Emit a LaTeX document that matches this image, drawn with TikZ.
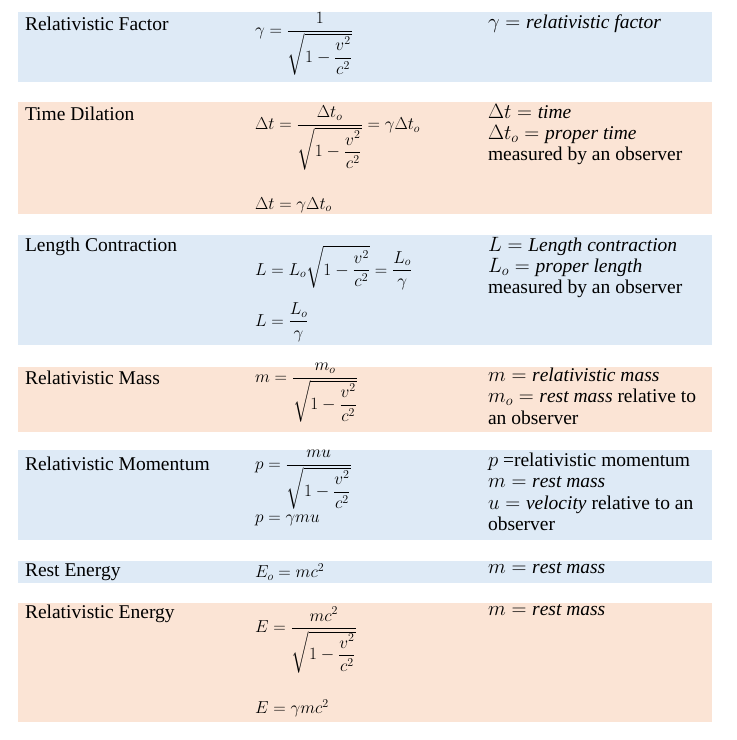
\documentclass[tikz,border=0pt]{standalone}
\usepackage{fontspec}
\usepackage{amsmath}
\setmainfont{Liberation Serif}
\begin{document}
\begin{tikzpicture}[x=1pt,y=-1pt,
  every node/.style={inner sep=0pt,outer sep=0pt,font=\fontsize{19.5}{21}\selectfont},
  lbl/.style={anchor=west},
  frm/.style={anchor=west,font=\fontsize{17}{21}\selectfont},
  dsc/.style={anchor=north west,align=left,font=\fontsize{19.5}{21.3}\selectfont}]
\definecolor{bandblue}{HTML}{DEEAF6}
\definecolor{bandpeach}{HTML}{FBE4D5}
\useasboundingbox (0,0) rectangle (737,740);
\fill[white] (0,0) rectangle (737,740);
\fill[bandblue]  (18,12) rectangle (712,82);
\fill[bandpeach] (18,102) rectangle (712,214);
\fill[bandblue]  (18,235) rectangle (712,345);
\fill[bandpeach] (18,367) rectangle (712,432);
\fill[bandblue]  (18,450) rectangle (712,540);
\fill[bandblue]  (18,561) rectangle (712,583);
\fill[bandpeach] (18,603) rectangle (712,722);
% labels
\node[lbl] (l1) at (25,24) {Relativistic Factor};
\node[lbl] (l2) at (25,114) {Time Dilation};
\node[lbl] (l3) at (25,247) {Length Contraction};
\node[lbl] (l4) at (25,378) {Relativistic Mass};
\node[lbl] (l5) at (25,464) {Relativistic Momentum};
\node[lbl] (l6) at (25,572) {Rest Energy};
\node[lbl] (l7) at (25,614) {Relativistic Energy};
% formulas
\node[frm] (f1) at (255,44) {$\displaystyle \gamma=\frac{1}{\sqrt{1-\dfrac{v^2}{c^2}}}$};
\node[frm] (f2) at (255,138) {$\displaystyle \Delta t=\frac{\Delta t_o}{\sqrt{1-\dfrac{v^2}{c^2}}}=\gamma\Delta t_o$};
\node[frm] (f2b) at (255,205) {$\Delta t=\gamma\Delta t_o$};
\node[frm] (f3) at (255,268) {$\displaystyle L=L_o\sqrt{1-\frac{v^2}{c^2}}=\frac{L_o}{\gamma}$};
\node[frm] (f3b) at (255,322) {$\displaystyle L=\frac{L_o}{\gamma}$};
\node[frm] (f4) at (255,393) {$\displaystyle m=\frac{m_o}{\sqrt{1-\dfrac{v^2}{c^2}}}$};
\node[frm] (f5) at (255,480) {$\displaystyle p=\frac{mu}{\sqrt{1-\dfrac{v^2}{c^2}}}$};
\node[frm] (f5b) at (255,520) {$p=\gamma mu$};
\node[frm] (f6) at (255,572) {$E_o=mc^2$};
\node[frm] (f7) at (255,640) {$\displaystyle E=\frac{mc^2}{\sqrt{1-\dfrac{v^2}{c^2}}}$};
\node[frm] (f7b) at (255,708) {$E=\gamma mc^2$};
% descriptions
\node[dsc] (d1) at (488,15) {$\gamma=\mathit{relativistic\ factor}$};
\node[dsc] (d2) at (488,104) {$\Delta t=\mathit{time}$\\$\Delta t_o=\mathit{proper\ time}$\\measured by an observer};
\node[dsc] (d3) at (488,237) {$L=\mathit{Length\ contraction}$\\$L_o=\mathit{proper\ length}$\\measured by an observer};
\node[dsc] (d4) at (488,368) {$m=\mathit{relativistic\ mass}$\\$m_o=\mathit{rest\ mass}$ relative to\\an observer};
\node[dsc] (d5) at (488,453) {$p$ =relativistic momentum\\$m=\mathit{rest\ mass}$\\$u=\mathit{velocity}$ relative to an\\observer};
\node[dsc] (d6) at (488,563) {$m=\mathit{rest\ mass}$};
\node[dsc] (d7) at (488,605) {$m=\mathit{rest\ mass}$};
\end{tikzpicture}
\end{document}
